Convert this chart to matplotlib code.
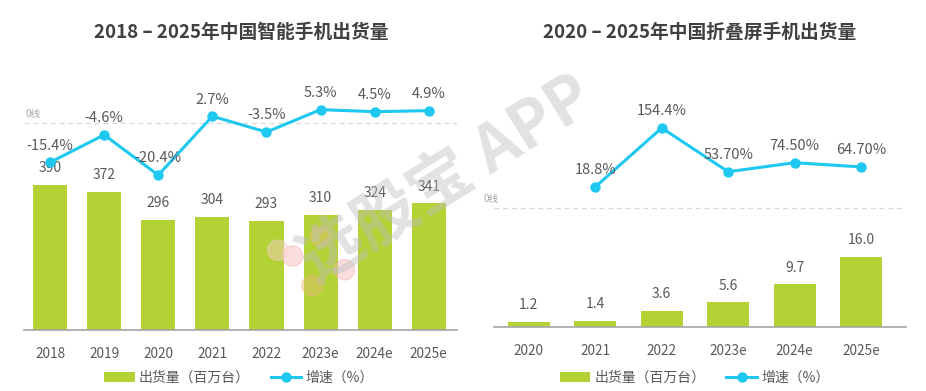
import numpy as np
import matplotlib.pyplot as plt
from matplotlib.lines import Line2D
from matplotlib.patches import Patch, Ellipse

plt.rcParams['font.family'] = ['Noto Sans CJK SC', 'DejaVu Sans']

# dados - smartphones
anos_a = ['2018', '2019', '2020', '2021', '2022', '2023e', '2024e', '2025e']
envio_a = [390, 372, 296, 304, 293, 310, 324, 341]
cresc_a = [-15.4, -4.6, -20.4, 2.7, -3.5, 5.3, 4.5, 4.9]
rot_cresc_a = ['-15.4%', '-4.6%', '-20.4%', '2.7%', '-3.5%', '5.3%', '4.5%', '4.9%']

# dados - tela dobravel
anos_b = ['2020', '2021', '2022', '2023e', '2024e', '2025e']
envio_b = [1.2, 1.4, 3.6, 5.6, 9.7, 16.0]
cresc_b = [18.8, 154.4, 53.7, 74.5, 64.7]
rot_cresc_b = ['18.8%', '154.4%', '53.70%', '74.50%', '64.70%']

verde = '#B3D235'
azul = '#1EC8F0'
cinza = '#595959'

fig = plt.figure(figsize=(9.26, 3.91), dpi=100)


def painel(rect, anos, envio, cresc, rot, x_cresc, ylim_bar, ylim_lin, xlim,
           zero_y, zero_x, rot_env, titulo, leg_x):
    ax = fig.add_axes(rect)
    x = np.arange(len(anos))
    ax.bar(x, envio, width=0.63, color=verde, zorder=2)
    for xi, v, t in zip(x, envio, rot_env):
        ax.annotate(t, (xi, v), xytext=(0, 7), textcoords='offset points',
                    ha='center', va='bottom', fontsize=10, color=cinza)
    ax.set_ylim(*ylim_bar)
    ax.set_xlim(*xlim)
    ax.set_xticks(x)
    ax.set_xticklabels(anos, fontsize=9.8, color=cinza)
    ax.tick_params(axis='x', length=0, pad=12)
    ax.set_yticks([])
    for s in ['top', 'right', 'left']:
        ax.spines[s].set_visible(False)
    ax.spines['bottom'].set_color('#A6A6A6')
    ax.spines['bottom'].set_linewidth(1.2)

    ax2 = ax.twinx()
    ax2.set_ylim(*ylim_lin)
    ax2.axhline(zero_y, color='#D9D9D9', lw=0.9, ls=(0, (4, 3)), zorder=1)
    ax2.text(zero_x, zero_y + 4 * (ylim_lin[1] - ylim_lin[0]) / 270, '0线',
             fontsize=7, color='#A6A6A6', ha='left', va='bottom')
    ax2.plot(x_cresc, cresc, color=azul, lw=2.2, marker='o', ms=6.5, zorder=3)
    for xi, v, t in zip(x_cresc, cresc, rot):
        ax2.annotate(t, (xi, v), xytext=(0, 7), textcoords='offset points',
                     ha='center', va='bottom', fontsize=10.5, color=cinza)
    ax2.set_yticks([])
    for s in ax2.spines.values():
        s.set_visible(False)

    cx = rect[0] + rect[2] / 2
    fig.text(cx, 0.918, titulo, ha='center', va='center', fontsize=13.5,
             fontweight='bold', color='#404040')

    handles = [Patch(facecolor=verde, edgecolor='none'),
               Line2D([0], [0], color=azul, lw=2.2, marker='o', ms=6.5)]
    fig.legend(handles, ['出货量（百万台）', '增速（%）'], loc='center',
               bbox_to_anchor=(leg_x, 0.033), ncol=2, frameon=False,
               fontsize=10, labelcolor=cinza, handlelength=2.2,
               handletextpad=0.3, columnspacing=1.5)
    return ax


painel([0.026, 0.156, 0.468, 0.69], anos_a, envio_a, cresc_a, rot_cresc_a,
       np.arange(len(anos_a)), (0, 726), (-81.2, 24.7), (-0.48, 7.53), 0, -0.46,
       [str(v) for v in envio_a], '2018 – 2025年中国智能手机出货量', 0.258)

painel([0.533, 0.164, 0.445, 0.683], anos_b, envio_b, cresc_b, rot_cresc_b,
       np.arange(1, len(anos_b)), (0, 61), (-303, 311), (-0.53, 5.67), -30, -0.68,
       ['%.1f' % v for v in envio_b], '2020 – 2025年中国折叠屏手机出货量', 0.75)

# marca d'agua
fig.text(0.482, 0.54, '选股宝 APP', fontsize=46, fontweight='bold', color='#BFBFBF',
         alpha=0.45, rotation=32, ha='center', va='center', zorder=10)
r = 0.011
for (px, py, c) in [(0.316, 0.345, '#F4B6B6'), (0.346, 0.395, '#E8C07A'),
                    (0.372, 0.31, '#F4B6B6'), (0.337, 0.27, '#E8C07A'),
                    (0.3, 0.36, '#F8D0D0')]:
    fig.patches.append(Ellipse((px, py), 2 * r, 2 * r * 926 / 391,
                               transform=fig.transFigure, color=c, alpha=0.45,
                               zorder=10))

plt.savefig('out.png', dpi=100)
